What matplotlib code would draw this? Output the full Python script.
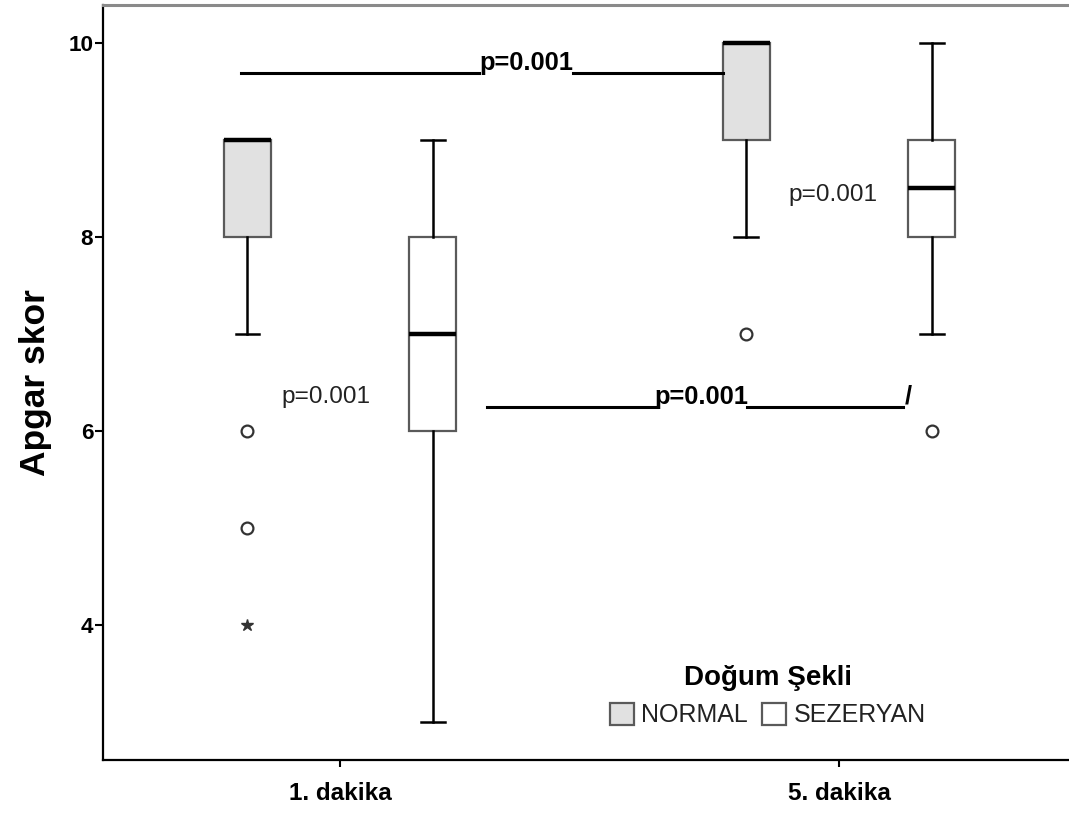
import matplotlib
matplotlib.use("Agg")
import matplotlib.pyplot as plt
from matplotlib.patches import Patch

plt.rcParams['font.family'] = ['Liberation Sans', 'DejaVu Sans']

# Time points and delivery groups
categories = ["1. dakika", "5. dakika"]
groups = ["NORMAL", "SEZERYAN"]
group_colors = ["#e1e1e1", "#ffffff"]

# Box summary per group, one value per time point
normal_q1 = [8, 9]
normal_med = [9, 10]
normal_q3 = [9, 10]
normal_whislo = [7, 8]
normal_whishi = [9, 10]
normal_out = [[6, 5], [7]]
normal_extreme = [[4], []]

sez_q1 = [6, 8]
sez_med = [7, 8.5]
sez_q3 = [8, 9]
sez_whislo = [3, 7]
sez_whishi = [9, 10]
sez_out = [[], [6]]
sez_extreme = [[], []]

yticks = [4, 6, 8, 10]
p_label = "p=0.001"

fig = plt.figure(figsize=(10.69, 8.14), dpi=100)
ax = fig.add_axes([0.0964, 0.0663, 0.9036, 0.9276])

offset = 0.186
box_w = 0.094

def stats(q1, med, q3, lo, hi):
    return [dict(q1=a, med=b, q3=c, whislo=d, whishi=e, fliers=[])
            for a, b, c, d, e in zip(q1, med, q3, lo, hi)]

series = [
    (stats(normal_q1, normal_med, normal_q3, normal_whislo, normal_whishi),
     normal_out, normal_extreme, -offset, group_colors[0]),
    (stats(sez_q1, sez_med, sez_q3, sez_whislo, sez_whishi),
     sez_out, sez_extreme, offset, group_colors[1]),
]

for st, outs, extr, off, col in series:
    pos = [i + off for i in range(len(categories))]
    ax.bxp(st, positions=pos, widths=box_w, capwidths=box_w * 0.5,
           patch_artist=True, showfliers=False,
           boxprops=dict(facecolor=col, edgecolor="#5a5a5a", linewidth=1.6),
           whiskerprops=dict(color="black", linewidth=1.8),
           capprops=dict(color="black", linewidth=1.8),
           medianprops=dict(color="black", linewidth=3.2, solid_capstyle="butt"),
           manage_ticks=False)
    for p, vals in zip(pos, outs):
        ax.plot([p] * len(vals), vals, linestyle="none", marker="o",
                markersize=8.5, markerfacecolor="white",
                markeredgecolor="#333333", markeredgewidth=1.6, zorder=4)
    for p, vals in zip(pos, extr):
        ax.plot([p] * len(vals), vals, linestyle="none", marker="*",
                markersize=9, color="#333333", zorder=4)

# Comparison between minutes within NORMAL group
y_top = 9.69
ax.plot([-0.198, 0.279], [y_top, y_top], color="black", lw=2.2)
ax.plot([0.467, 1 - offset - box_w / 2], [y_top, y_top], color="black", lw=2.2)
ax.text(0.373, y_top + 0.035, p_label, ha="center", va="baseline",
        fontsize=18.4, fontweight="bold")

# Comparison between minutes within SEZERYAN group
y_low = 6.247
ax.plot([0.295, 0.635], [y_low, y_low], color="black", lw=2.2)
ax.plot([0.816, 1.128], [y_low, y_low], color="black", lw=2.2)
ax.text(0.725, y_low + 0.035, p_label, ha="center", va="baseline",
        fontsize=18.4, fontweight="bold")
ax.text(1.138, y_low + 0.035, "/", ha="center", va="baseline",
        fontsize=18.4, fontweight="bold")

# Group comparisons at each minute
ax.text(-0.028, 6.35, p_label, ha="center", va="center", fontsize=17.6,
        color="#222222")
ax.text(0.988, 8.43, p_label, ha="center", va="center", fontsize=17.6,
        color="#222222")

ax.set_xlim(-0.475, 1.461)
ax.set_ylim(2.608, 10.392)
ax.set_xticks(range(len(categories)))
ax.set_xticklabels(categories, fontsize=17.5, fontweight="bold")
ax.set_yticks(yticks)
ax.set_yticklabels([str(t) for t in yticks], fontsize=16.2, fontweight="bold")
ax.tick_params(axis="y", length=6, width=1.5, pad=1)
ax.tick_params(axis="x", length=5, width=1.5, pad=11)
ax.set_ylabel("Apgar skor", fontsize=25.5, fontweight="bold", labelpad=12)

for s in ["left", "bottom"]:
    ax.spines[s].set_color("black")
    ax.spines[s].set_linewidth(1.6)
ax.spines["top"].set_color("#8a8a8a")
ax.spines["top"].set_linewidth(2.2)
ax.spines["right"].set_visible(False)

handles = [Patch(facecolor=c, edgecolor="#5a5a5a", linewidth=1.6)
           for c in group_colors]
leg = ax.legend(handles, groups, title="Doğum Şekli", ncol=2, frameon=False,
                loc="center", bbox_to_anchor=(0.718, 0.145),
                bbox_transform=fig.transFigure, fontsize=18,
                handlelength=0.96, handleheight=0.95, handletextpad=0.28,
                columnspacing=0.6, labelspacing=0.3)
leg.get_title().set_fontweight("bold")
leg.get_title().set_fontsize(20)
leg._legend_box.sep = 9
for t in leg.get_texts():
    t.set_color("#222222")

fig.savefig("out.png", dpi=100)
